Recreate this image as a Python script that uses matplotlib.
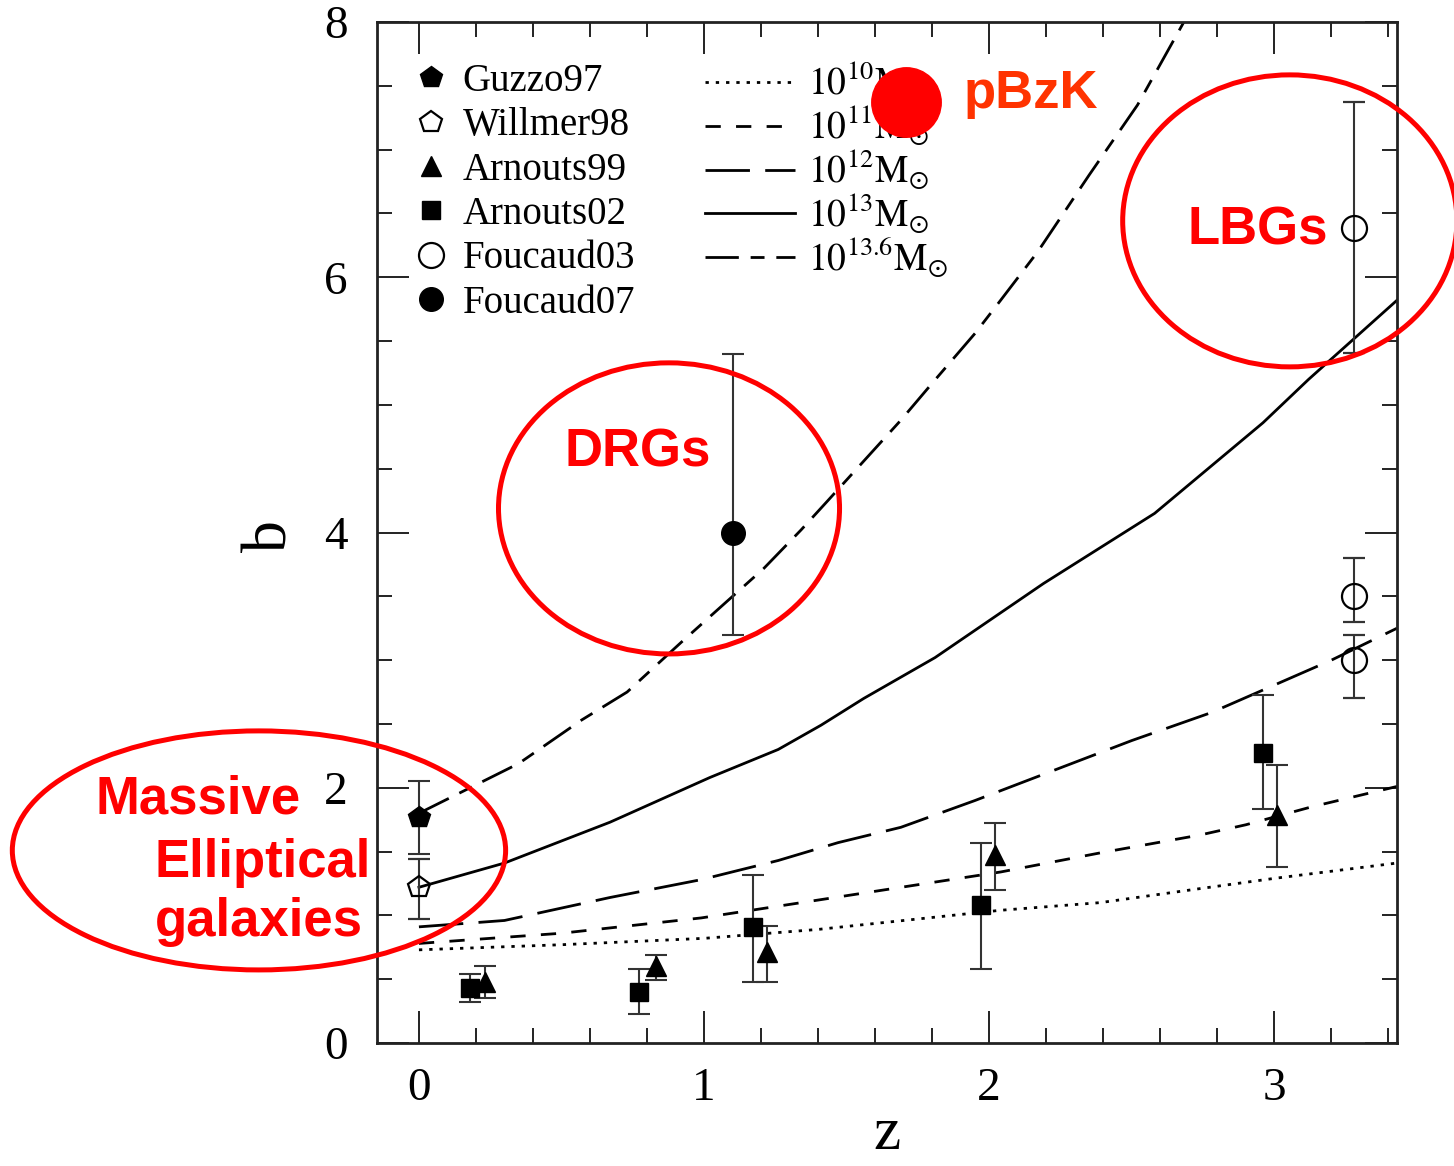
import numpy as np
import matplotlib.pyplot as plt
from matplotlib.patches import Ellipse
from matplotlib.lines import Line2D

plt.rcParams['font.family'] = ['Liberation Serif', 'DejaVu Serif']
plt.rcParams['mathtext.fontset'] = 'stix'
plt.rcParams['lines.scale_dashes'] = False

# bias measurements: redshift, bias, lower and upper error limits
guzzo_z = [0.0]
guzzo_b = [1.77]
guzzo_lo = [1.48]
guzzo_hi = [2.05]

willmer_z = [0.0]
willmer_b = [1.22]
willmer_lo = [0.97]
willmer_hi = [1.44]

arnouts99_z = [0.23, 0.83, 1.22, 2.02, 3.01]
arnouts99_b = [0.48, 0.60, 0.71, 1.47, 1.79]
arnouts99_lo = [0.35, 0.49, 0.48, 1.20, 1.38]
arnouts99_hi = [0.60, 0.69, 0.92, 1.72, 2.18]

arnouts02_z = [0.18, 0.77, 1.17, 1.97, 2.96]
arnouts02_b = [0.43, 0.40, 0.91, 1.08, 2.27]
arnouts02_lo = [0.32, 0.23, 0.48, 0.58, 1.83]
arnouts02_hi = [0.54, 0.58, 1.32, 1.57, 2.73]

foucaud03_z = [3.28, 3.28, 3.28]
foucaud03_b = [3.50, 3.00, 6.39]
foucaud03_lo = [3.30, 2.70, 5.41]
foucaud03_hi = [3.80, 3.20, 7.37]

foucaud07_z = [1.10]
foucaud07_b = [4.00]
foucaud07_lo = [3.20]
foucaud07_hi = [5.40]

# halo bias tracks for fixed halo mass
m10_z = [0, 0.5, 1.0, 1.4, 1.7, 2.04, 2.39, 2.74, 3.0, 3.43]
m10_b = [0.73, 0.77, 0.82, 0.89, 0.96, 1.04, 1.10, 1.21, 1.29, 1.41]

m11_z = [0, 0.5, 0.99, 1.4, 2.04, 2.39, 2.74, 2.90, 3.13, 3.43]
m11_b = [0.78, 0.86, 0.98, 1.12, 1.34, 1.49, 1.63, 1.71, 1.85, 2.01]

m12_z = [0, 0.30, 0.67, 0.99, 1.26, 1.47, 1.69, 1.95, 2.5, 2.78, 3.2, 3.43]
m12_b = [0.91, 0.96, 1.14, 1.28, 1.43, 1.57, 1.69, 1.90, 2.37, 2.59, 3.00, 3.25]

m13_z = [0, 0.30, 0.67, 1.02, 1.26, 1.41, 1.56, 1.81, 2.19, 2.58, 2.96, 3.12, 3.43]
m13_b = [1.22, 1.41, 1.73, 2.08, 2.30, 2.49, 2.70, 3.02, 3.60, 4.15, 4.86, 5.20, 5.82]

m136_z = [0, 0.35, 0.57, 0.73, 0.92, 1.21, 1.34, 1.43, 1.69, 1.80, 1.95, 2.04, 2.17,
          2.35, 2.52, 2.68, 2.75]
m136_b = [1.80, 2.19, 2.53, 2.75, 3.14, 3.72, 4.02, 4.24, 4.88, 5.17, 5.56, 5.82, 6.20,
          6.80, 7.35, 7.99, 8.30]

# pBzK point
pbzk_z = [1.707]
pbzk_b = [7.375]


def err(b, lo, hi):
    b = np.array(b)
    return [b - np.array(lo), np.array(hi) - b]


fig = plt.figure(figsize=(14.54, 11.66), dpi=100)
ax = fig.add_axes([0.2593, 0.1055, 0.7015, 0.8756])

ebar = dict(ls='none', ecolor='#333333', elinewidth=1.5, capsize=8, capthick=1.5, zorder=4)

ax.errorbar(guzzo_z, guzzo_b, yerr=err(guzzo_b, guzzo_lo, guzzo_hi), marker='p', ms=16,
            mfc='k', mec='k', **ebar)
ax.errorbar(willmer_z, willmer_b, yerr=err(willmer_b, willmer_lo, willmer_hi), marker='p', ms=16,
            mfc='none', mec='k', mew=1.6, **ebar)
ax.errorbar(arnouts99_z, arnouts99_b, yerr=err(arnouts99_b, arnouts99_lo, arnouts99_hi), marker='^',
            ms=14, mfc='k', mec='k', **ebar)
ax.errorbar(arnouts02_z, arnouts02_b, yerr=err(arnouts02_b, arnouts02_lo, arnouts02_hi), marker='s',
            ms=13, mfc='k', mec='k', **ebar)
ax.errorbar(foucaud03_z, foucaud03_b, yerr=err(foucaud03_b, foucaud03_lo, foucaud03_hi), marker='o',
            ms=18, mfc='none', mec='k', mew=1.6, **ebar)
ax.errorbar(foucaud07_z, foucaud07_b, yerr=err(foucaud07_b, foucaud07_lo, foucaud07_hi), marker='o',
            ms=17, mfc='k', mec='k', **ebar)

lw = 2.0
ax.plot(m10_z, m10_b, color='k', lw=lw, dashes=(2.4, 5.0))
ax.plot(m11_z, m11_b, color='k', lw=lw, dashes=(11, 11))
ax.plot(m12_z, m12_b, color='k', lw=lw, dashes=(32, 11))
ax.plot(m13_z, m13_b, color='k', lw=lw, ls='-')
ax.plot(m136_z, m136_b, color='k', lw=lw, dashes=(24, 8.5, 10, 8.5))

ax.set_xlim(-0.147, 3.43)
ax.set_ylim(0, 8)
ax.set_xticks([0, 1, 2, 3])
ax.set_xticks(np.arange(0, 3.41, 0.2), minor=True)
ax.set_yticks([0, 2, 4, 6, 8])
ax.set_yticks(np.arange(0, 8.01, 0.5), minor=True)
ax.tick_params(which='both', direction='in', top=True, right=True, width=1.4, color='#222222')
ax.tick_params(which='major', length=23, labelsize=34)
ax.tick_params(which='minor', length=11)
ax.tick_params(axis='x', pad=18)
ax.tick_params(axis='y', pad=21)
for s in ax.spines.values():
    s.set_linewidth(2.0)
    s.set_color('#222222')

ax.set_xlabel('z', fontsize=44, va='baseline')
ax.xaxis.set_label_coords(0.5, -0.1035)
ax.set_ylabel('b', fontsize=46)
ax.yaxis.set_label_coords(-0.075, 0.497)

# legends
sym_handles = [
    Line2D([], [], ls='none', marker='p', ms=16, mfc='k', mec='k'),
    Line2D([], [], ls='none', marker='p', ms=16, mfc='none', mec='k', mew=1.6),
    Line2D([], [], ls='none', marker='^', ms=14, mfc='k', mec='k'),
    Line2D([], [], ls='none', marker='s', ms=13, mfc='k', mec='k'),
    Line2D([], [], ls='none', marker='o', ms=18, mfc='none', mec='k', mew=1.6),
    Line2D([], [], ls='none', marker='o', ms=17, mfc='k', mec='k'),
]
sym_labels = ['Guzzo97', 'Willmer98', 'Arnouts99', 'Arnouts02', 'Foucaud03', 'Foucaud07']
leg1 = ax.legend(sym_handles, sym_labels, loc='upper left', bbox_to_anchor=(0.0373, 0.960),
                 frameon=False, fontsize=28, borderpad=0, borderaxespad=0, handlelength=0.8,
                 handletextpad=0.42, labelspacing=0.19)
ax.add_artist(leg1)

line_handles = [
    Line2D([], [], color='k', lw=lw, dashes=(2.4, 5.0)),
    Line2D([], [], color='k', lw=lw, dashes=(11, 11)),
    Line2D([], [], color='k', lw=lw, dashes=(32, 11)),
    Line2D([], [], color='k', lw=lw, ls='-'),
    Line2D([], [], color='k', lw=lw, dashes=(24, 8.5, 10, 8.5)),
]
line_labels = [r'$\mathrm{10^{10}M_{\odot}}$', r'$\mathrm{10^{11}M_{\odot}}$',
               r'$\mathrm{10^{12}M_{\odot}}$', r'$\mathrm{10^{13}M_{\odot}}$',
               r'$\mathrm{10^{13.6}M_{\odot}}$']
ax.legend(line_handles, line_labels, loc='upper left', bbox_to_anchor=(0.3216, 0.963),
          frameon=False, fontsize=27, borderpad=0, borderaxespad=0, handlelength=2.4,
          handletextpad=0.35, labelspacing=-0.02)

# highlighted populations
red = '#ff0000'
for cx, cy, w, h in [(-0.561, 1.509, 1.730, 1.873), (0.877, 4.189, 1.196, 2.281),
                     (3.054, 6.442, 1.172, 2.288)]:
    ax.add_patch(Ellipse((cx, cy), w, h, fill=False, ec=red, lw=3.6, clip_on=False, zorder=6))

ax.plot(pbzk_z, pbzk_b, 'o', color=red, ms=50, clip_on=False, zorder=7)

tkw = dict(fontsize=38, fontweight='bold', family='Liberation Sans', ha='center', va='baseline',
           zorder=8, clip_on=False)
ax.text(2.146, 7.33, 'pBzK', color='#ff3300', **tkw)
ax.text(2.942, 6.254, 'LBGs', color=red, **tkw)
ax.text(0.767, 4.514, 'DRGs', color=red, **tkw)
ax.text(-0.775, 1.80, 'Massive', color=red, **tkw)
ax.text(-0.547, 1.30, 'Elliptical', color=red, **tkw)
ax.text(-0.561, 0.84, 'galaxies', color=red, **tkw)

fig.savefig('out.png', dpi=100)
